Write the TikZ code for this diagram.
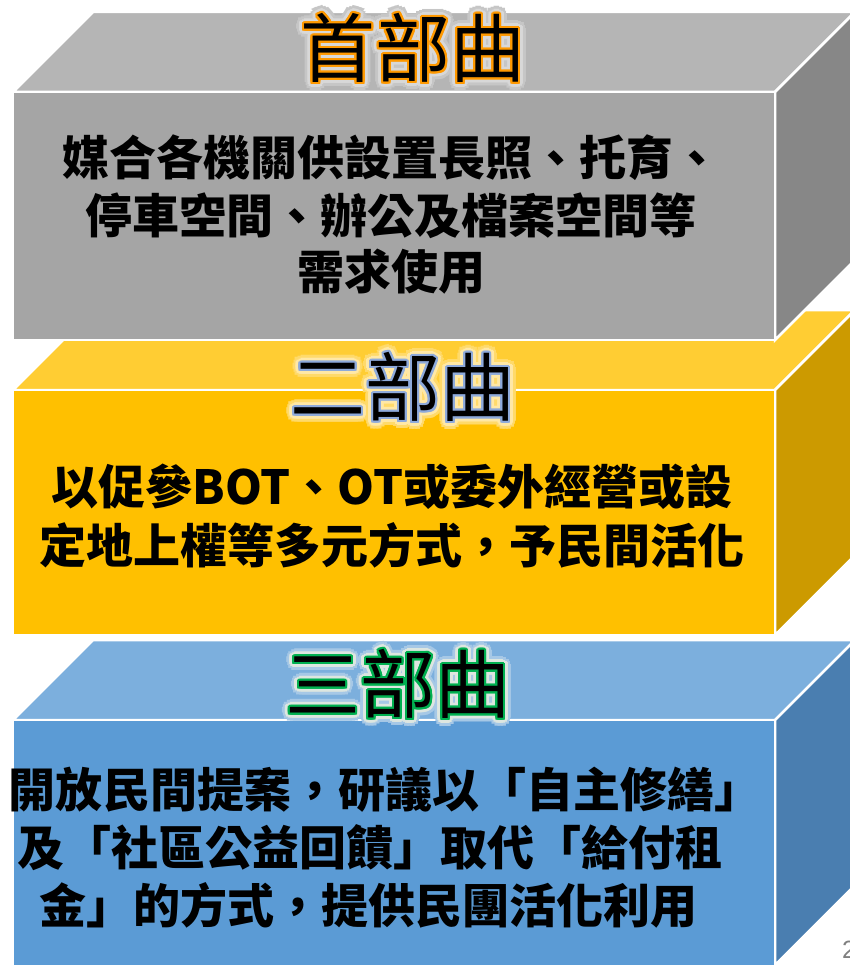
\documentclass[tikz,border=0pt]{standalone}
\usepackage{fontspec}
\newfontfamily\cjk{Noto Sans CJK TC}
\newfontfamily\pagefont{Liberation Sans}
\definecolor{gtop}{HTML}{B5B5B5}
\definecolor{gfront}{HTML}{A5A5A5}
\definecolor{gside}{HTML}{878787}
\definecolor{ytop}{HTML}{FFCD33}
\definecolor{yfront}{HTML}{FFC000}
\definecolor{yside}{HTML}{CC9A00}
\definecolor{btop}{HTML}{7CAFDD}
\definecolor{bfront}{HTML}{5B9BD5}
\definecolor{bside}{HTML}{4A7EB0}
\definecolor{orangeline}{HTML}{FF9900}
\definecolor{steelline}{HTML}{8EAADB}
\definecolor{greenline}{HTML}{00B050}
\definecolor{pagegray}{HTML}{808080}
\definecolor{gglowA}{HTML}{C6C6C6}
\definecolor{gglowB}{HTML}{D8D8D8}
\definecolor{yglowA}{HTML}{FFDA6A}
\definecolor{yglowB}{HTML}{FFE8A6}
\definecolor{bglowA}{HTML}{A6C8E6}
\definecolor{bglowB}{HTML}{DDE6E0}
\newcommand\ringtext[3]{%
  \foreach \ang in {0,22.5,...,337.5}{%
    \pgfmathsetmacro\rdx{#2*cos(\ang)}%
    \pgfmathsetmacro\rdy{#2*sin(\ang)}%
    \rlap{\hspace*{\rdx pt}\raisebox{\rdy pt}{\textcolor{#1}{#3}}}}}
\newcommand\titletext[4]{%
  \ringtext{#1}{8}{#4}\ringtext{#2}{5}{#4}\ringtext{#3}{2.2}{#4}\textcolor{black}{#4}}
\tikzset{
  face/.style={draw=white, line width=2.5pt, line join=miter},
  titlefont/.style={inner sep=0pt, font=\cjk\fontsize{75}{80}\selectfont},
  bodyfont/.style={inner sep=0pt, text=black, font=\cjk\bfseries\fontsize{47}{57}\selectfont},
}
\begin{document}
\begin{tikzpicture}[x=1pt,y=-1pt]
\useasboundingbox (0,0) rectangle (850,965);
\clip (0,0) rectangle (850,965);
% blue box
\filldraw[face, fill=btop] (13,720) -- (775,720) -- (855,640) -- (93,640) -- cycle;
\filldraw[face, fill=bside] (775,720) -- (855,640) -- (855,885) -- (775,965) -- cycle;
\filldraw[face, fill=bfront] (13,720) rectangle (775,968);
% yellow box
\filldraw[face, fill=ytop] (13,390) -- (775,390) -- (855,310) -- (93,310) -- cycle;
\filldraw[face, fill=yside] (775,390) -- (855,310) -- (855,555) -- (775,635) -- cycle;
\filldraw[face, fill=yfront] (13,390) rectangle (775,635);
% gray box
\filldraw[face, fill=gtop] (13,92) -- (775,92) -- (855,12) -- (93,12) -- cycle;
\filldraw[face, fill=gside] (775,92) -- (855,12) -- (855,260) -- (775,340) -- cycle;
\filldraw[face, fill=gfront] (13,92) rectangle (775,340);
% titles
\node[titlefont] (t1) at (413,48) {\titletext{gglowA}{gglowB}{orangeline}{首部曲}};
\node[titlefont] (t2) at (403,387) {\titletext{yglowA}{yglowB}{steelline}{二部曲}};
\node[titlefont] (t3) at (398,684) {\titletext{bglowA}{bglowB}{greenline}{三部曲}};
% body texts
\node[bodyfont] (a1) at (391,158) {媒合各機關供設置長照、托育、};
\node[bodyfont] (a2) at (391,216) {停車空間、辦公及檔案空間等};
\node[bodyfont] (a3) at (391,272) {需求使用};
\node[bodyfont] (b1) at (392,487) {以促參BOT、OT或委外經營或設};
\node[bodyfont] (b2) at (392,545) {定地上權等多元方式，予民間活化};
\node[bodyfont] (c1) at (385,790) {開放民間提案，研議以「自主修繕」};
\node[bodyfont] (c2) at (370,848) {及「社區公益回饋」取代「給付租};
\node[bodyfont] (c3) at (368,905) {金」的方式，提供民團活化利用};
% page number
\node[anchor=west, inner sep=0pt, text=pagegray, font=\pagefont\fontsize{25}{28}\selectfont] (pg) at (842,950) {2};
\end{tikzpicture}
\end{document}
